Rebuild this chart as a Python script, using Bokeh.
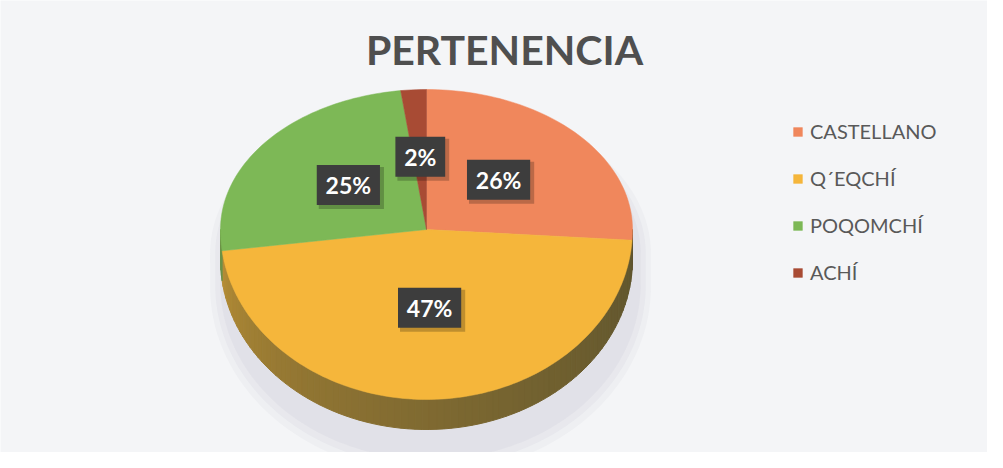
import numpy as np
from bokeh.plotting import figure
from bokeh.models import Range1d, Legend, LegendItem
from bokeh.core.properties import value
from bokeh.embed import file_html
from bokeh.resources import INLINE

# ---------------- data ----------------
title_text = "PERTENENCIA"
categories = ["CASTELLANO", "Q´EQCHÍ", "POQOMCHÍ", "ACHÍ"]
values = [26, 47, 25, 2]
labels = ["26%", "47%", "25%", "2%"]
colors = ["#f0875c", "#f5b63b", "#7db856", "#a84b34"]

# ---------------- layout (pixel-like data space) ----------------
W, H = 987, 452
cx, cy = 434.0, 237.0          # pie centre
rx, ry_up, ry_dn = 206.0, 140.0, 170.0   # perspective ellipse radii
depth = 30.0
side_dark = np.array([72, 70, 44])

p = figure(width=W, height=H, x_range=Range1d(8, 8 + W), y_range=Range1d(8 + H, 8),
           output_backend="svg", toolbar_location=None,
           x_axis_location=None, y_axis_location=None, min_border=0)
p.grid.visible = False
p.outline_line_color = None
p.background_fill_color = "#f4f5f7"
p.border_fill_color = "#f4f5f7"


def proj(theta_deg):
    t = np.radians(np.asarray(theta_deg, dtype=float))
    s, c = np.sin(t), np.cos(t)
    ry = np.where(s > 0, ry_up, ry_dn)
    return cx + rx * c, cy - ry * s


def hex2rgb(h):
    h = h.lstrip("#")
    return np.array([int(h[i:i + 2], 16) for i in (0, 2, 4)])


def rgb2hex(a):
    a = np.clip(np.round(a), 0, 255).astype(int)
    return "#%02x%02x%02x" % tuple(a)


total = float(sum(values))
cum = np.concatenate([[0.0], np.cumsum(values) / total])
starts = 90.0 - 360.0 * cum[:-1]
ends = 90.0 - 360.0 * cum[1:]

# ---------------- soft shadow ----------------
oa = np.linspace(0, 360, 241)
ox, oy = proj(oa)
oy = np.where(np.sin(np.radians(oa)) < 0, oy + depth, oy)
for sx, sy, al in [(1.07, 1.10, 0.05), (1.045, 1.065, 0.06), (1.02, 1.03, 0.07)]:
    scx, scy = cx + 4, cy + depth * 0.6 + 6
    p.patch((ox - cx) * sx + scx, (oy - cy) * sy + scy,
            fill_color="#8a90a6", fill_alpha=al, line_color=None)

# ---------------- side of the pie ----------------
sxs, sys_, scols = [], [], []
for a0, a1, col in zip(starts, ends, colors):
    lo, hi = max(a1, -180.0), min(a0, 0.0)
    if hi <= lo:
        continue
    n = max(2, int(np.ceil((hi - lo) / 2.0)) + 1)
    grid = np.linspace(lo, hi, n)
    base = hex2rgb(col)
    for t0, t1 in zip(grid[:-1], grid[1:]):
        x0, y0 = proj(t0)
        x1, y1 = proj(t1)
        sxs.append([float(x0), float(x1), float(x1), float(x0)])
        sys_.append([float(y0), float(y1), float(y1) + depth, float(y0) + depth])
        u = ((t0 + t1) / 2 + 180.0) / 180.0
        tt = 0.22 + 0.65 * u ** 0.5
        scols.append(rgb2hex(base * (1 - tt) + side_dark * tt))
p.patches(sxs, sys_, fill_color=scols, line_color=scols, line_width=1)

# ---------------- top face slices ----------------
renderers = []
for a0, a1, col in zip(starts, ends, colors):
    arc = np.linspace(a0, a1, max(3, int(abs(a0 - a1) / 1.5) + 2))
    ax, ay = proj(arc)
    xs = np.concatenate([[cx], ax])
    ys = np.concatenate([[cy], ay])
    r = p.patch(xs, ys, fill_color=col, line_color=col, line_width=0.5)
    renderers.append(r)

# ---------------- data labels ----------------
mids = (starts + ends) / 2.0
lx, ly = [], []
for m in mids:
    t = np.radians(m)
    up = np.sin(t) > 0
    ry = ry_up if up else ry_dn
    lx.append(cx + 0.48 * rx * np.cos(t))
    ly.append(cy - (0.52 if up else 0.46) * ry * np.sin(t))
box_w = [18 + 13.4 * (len(s) - 1) + 18.4 for s in labels]
p.rect([x + 3 for x in lx], [y + 3 for y in ly], width=[w + 2 for w in box_w], height=42,
       width_units="screen", height_units="screen",
       fill_color="#000000", fill_alpha=0.22, line_color=None)
p.rect(lx, ly, width=box_w, height=40, width_units="screen", height_units="screen",
       fill_color="#3d3d3d", line_color=None)
p.text(lx, ly, text=labels, text_font=value("Lato"), text_font_style="bold",
       text_font_size="23px", text_color="#ffffff", text_align="center",
       text_baseline="middle")

# ---------------- title ----------------
p.text([512], [57], text=[title_text], text_font=value("Lato"), text_font_style="bold",
       text_font_size="41px", text_color="#4f4f4f", text_align="center",
       text_baseline="middle")

# ---------------- legend ----------------
legend = Legend(items=[LegendItem(label=c, renderers=[r]) for c, r in zip(categories, renderers)],
                location=(792, 168), orientation="vertical",
                glyph_width=11, glyph_height=11, label_height=20,
                label_text_font="Lato", label_text_font_size="20px",
                label_text_color="#595959", label_standoff=7, spacing=23,
                padding=0, margin=0, border_line_color=None,
                background_fill_alpha=0)
p.add_layout(legend)

open("out.html", "w").write(file_html(p, INLINE))
